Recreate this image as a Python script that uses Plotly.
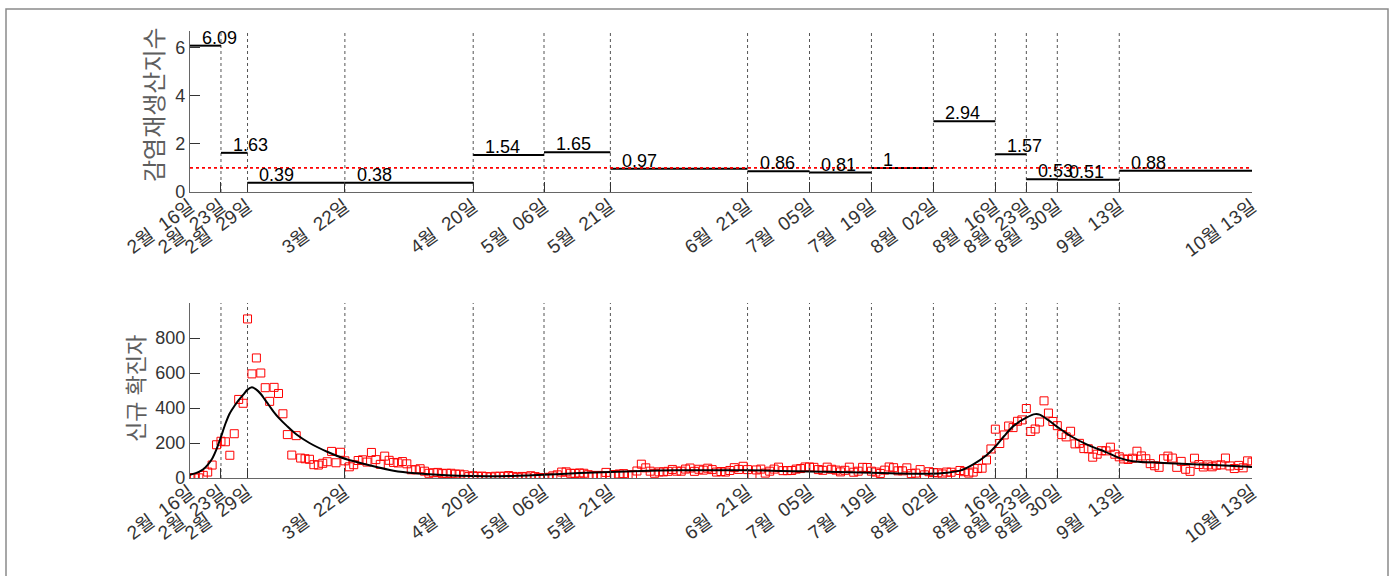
import pandas as pd
import plotly.graph_objects as go

W, H = 1397, 576

# Daily new confirmed cases, one value per day starting 2020-02-16
cases_feb = [2, 1, 1, 15, 34, 74, 190, 210, 207, 130, 253, 449, 427, 909]
cases_mar = [595, 686, 600, 516, 438, 518, 483, 367, 248, 131, 242, 114, 110, 107, 76, 74,
             84, 93, 152, 87, 147, 98, 64, 76, 100, 104, 91, 146, 105, 78, 125]
cases_apr = [101, 89, 86, 94, 81, 47, 47, 53, 39, 27, 30, 32, 25, 27, 27, 22, 22, 18, 8, 13,
             9, 11, 8, 6, 10, 10, 10, 14, 9, 4]
cases_may = [9, 6, 13, 8, 3, 2, 4, 12, 18, 34, 35, 27, 26, 29, 27, 19, 13, 15, 13, 32, 12,
             20, 23, 25, 16, 19, 40, 79, 58, 39, 27]
cases_jun = [35, 35, 38, 49, 39, 39, 51, 57, 38, 50, 45, 56, 48, 34, 37, 34, 43, 59, 49, 67,
             48, 17, 46, 51, 28, 39, 51, 62, 42, 42]
cases_jul = [43, 51, 54, 63, 63, 61, 48, 44, 62, 50, 45, 35, 44, 62, 33, 39, 61, 60, 39, 34,
             26, 45, 63, 59, 41, 41, 58, 25, 28, 48, 18]
cases_aug = [36, 31, 30, 23, 34, 33, 20, 43, 36, 28, 34, 54, 56, 103, 166, 279, 197, 246, 297,
             288, 324, 332, 397, 266, 280, 320, 441, 371, 323, 299, 248]
cases_sep = [235, 267, 195, 198, 168, 167, 119, 136, 156, 155, 176, 136, 121, 109, 106, 113,
             153, 126, 110, 82, 70, 61, 110, 125, 114, 61, 95, 50, 38, 113]
cases_oct = [77, 63, 75, 64, 73, 75, 114, 69, 54, 72, 58, 98, 91]

cases = (cases_feb + cases_mar + cases_apr + cases_may + cases_jun + cases_jul
         + cases_aug + cases_sep + cases_oct)
case_dates = pd.date_range("2020-02-16", periods=len(cases), freq="D")

# Fitted model curve (day offset from 2020-02-16, expected daily cases)
fit_day = [0, 2, 3, 4, 5, 6, 7, 8, 9, 10, 11, 12, 13, 14, 15, 16, 17, 18, 19, 20, 22, 24,
           27, 31, 35, 41, 46, 51, 58, 64, 72, 80, 88, 95, 102, 110, 120, 126, 140, 154,
           160, 167, 171, 174, 177, 180, 182, 184, 186, 189, 191, 192, 194, 196, 199, 203,
           207, 210, 213, 220, 228, 235, 240]
fit_val = [18, 35, 50, 75, 110, 165, 235, 310, 370, 410, 445, 475, 505, 518, 505, 480, 445,
           410, 375, 345, 295, 250, 200, 150, 110, 70, 42, 27, 16, 12, 11, 18, 28, 35, 40, 44,
           45, 44, 37, 30, 26, 24, 30, 42, 78, 130, 180, 240, 295, 345, 365, 362, 330, 292,
           240, 188, 148, 115, 96, 86, 77, 70, 63]
fit_dates = [pd.Timestamp("2020-02-16") + pd.Timedelta(days=d) for d in fit_day]

# Change points of the effective reproduction number and the value on each interval
break_dates = ["2020-02-16", "2020-02-23", "2020-02-29", "2020-03-22", "2020-04-20",
               "2020-05-06", "2020-05-21", "2020-06-21", "2020-07-05", "2020-07-19",
               "2020-08-02", "2020-08-16", "2020-08-23", "2020-08-30", "2020-09-13",
               "2020-10-13"]
rt_values = [6.09, 1.63, 0.39, 0.38, 1.54, 1.65, 0.97, 0.86, 0.81, 1, 2.94, 1.57, 0.53,
             0.51, 0.88]
rt_labels = ["6.09", "1.63", "0.39", "0.38", "1.54", "1.65", "0.97", "0.86", "0.81", "1",
             "2.94", "1.57", "0.53", "0.51", "0.88"]

break_ts = [pd.Timestamp(d) for d in break_dates]


def date_label(ts):
    sep = " " if ts.month >= 10 else "\u00a0\u00a0"
    return f"{ts.month}월{sep}{ts.day:02d}일"


tick_text = [date_label(t) for t in break_ts]

TEXT = "#333333"
AXIS = "#666666"
FONT = "Liberation Sans, Arial, Noto Sans CJK KR, sans-serif"

fig = go.Figure()

# step segments of the reproduction number
seg_x, seg_y = [], []
for i, v in enumerate(rt_values):
    seg_x += [break_ts[i], break_ts[i + 1], None]
    seg_y += [v, v, None]
fig.add_trace(go.Scatter(x=seg_x, y=seg_y, mode="lines",
                         line=dict(color="black", width=2),
                         xaxis="x", yaxis="y", hoverinfo="skip"))

# threshold R = 1
fig.add_trace(go.Scatter(x=[break_ts[0], break_ts[-1]], y=[1, 1], mode="lines",
                         line=dict(color="red", width=1.8, dash="dot"),
                         xaxis="x", yaxis="y", hoverinfo="skip"))

# daily cases and fitted curve
fig.add_trace(go.Scatter(x=case_dates, y=cases, mode="markers",
                         marker=dict(symbol="square-open", size=8, color="red",
                                     line=dict(width=1, color="red")),
                         xaxis="x2", yaxis="y2"))
fig.add_trace(go.Scatter(x=fit_dates, y=fit_val, mode="lines",
                         line=dict(color="black", width=2, shape="spline", smoothing=0.8),
                         xaxis="x2", yaxis="y2", hoverinfo="skip"))

shapes = []
for t in break_ts[1:-1]:
    for xr, yr in (("x", "y domain"), ("x2", "y2 domain")):
        shapes.append(dict(type="line", xref=xr, yref=yr, x0=t, x1=t, y0=0, y1=1,
                           line=dict(color="#555555", width=1, dash="dot"), layer="below"))

# outer frame
shapes.append(dict(type="rect", xref="paper", yref="paper",
                   x0=6 / W, x1=1388 / W, y0=-10 / H, y1=(H - 9) / H,
                   line=dict(color="#8a8a8a", width=1.5)))

annotations = []
for i, (v, lab) in enumerate(zip(rt_values, rt_labels)):
    annotations.append(dict(x=break_ts[i] + pd.Timedelta(hours=54), y=v + 0.33,
                            xref="x", yref="y", text=lab, showarrow=False,
                            xanchor="left", yanchor="middle",
                            font=dict(size=18, color="black", family=FONT)))

annotations.append(dict(x=155 / W, y=(H - 105) / H, xref="paper", yref="paper",
                        text="감염재생산지수", textangle=-90, showarrow=False,
                        xanchor="center", yanchor="middle",
                        font=dict(size=24, color="#5e5e5e", family=FONT)))
annotations.append(dict(x=136 / W, y=(H - 389) / H, xref="paper", yref="paper",
                        text="신규 확진자", textangle=-90, showarrow=False,
                        xanchor="center", yanchor="middle",
                        font=dict(size=22, color="#5e5e5e", family=FONT)))

xdom = [190 / W, 1252 / W]
xcommon = dict(type="date", domain=xdom, range=[break_ts[0], break_ts[-1]],
               tickmode="array", tickvals=break_ts, ticktext=tick_text, tickangle=-36,
               ticks="inside", ticklen=10, tickcolor=TEXT, tickwidth=1,
               ticklabelstandoff=-5,
               showline=True, linecolor=AXIS, linewidth=1.2,
               showgrid=False, zeroline=False, automargin=False,
               tickfont=dict(size=19, color=TEXT, family=FONT))
ycommon = dict(ticks="inside", ticklen=10, tickcolor=TEXT, tickwidth=1,
               showline=True, linecolor=AXIS, linewidth=1.2,
               showgrid=False, zeroline=False, automargin=False,
               tickfont=dict(size=18, color=TEXT, family=FONT))

fig.update_layout(
    width=W, height=H,
    autosize=False,
    margin=dict(l=0, r=0, t=0, b=0, pad=0, autoexpand=False),
    paper_bgcolor="white", plot_bgcolor="white",
    showlegend=False,
    font=dict(family=FONT),
    xaxis=dict(xcommon, anchor="y"),
    yaxis=dict(ycommon, domain=[(H - 192) / H, (H - 31) / H], range=[0, 6.7],
               tickvals=[0, 2, 4, 6], anchor="x"),
    xaxis2=dict(xcommon, anchor="y2"),
    yaxis2=dict(ycommon, domain=[(H - 478) / H, (H - 303) / H], range=[0, 1000],
                tickvals=[0, 200, 400, 600, 800], anchor="x2"),
    shapes=shapes,
    annotations=annotations,
)

fig.write_html("out.html")
